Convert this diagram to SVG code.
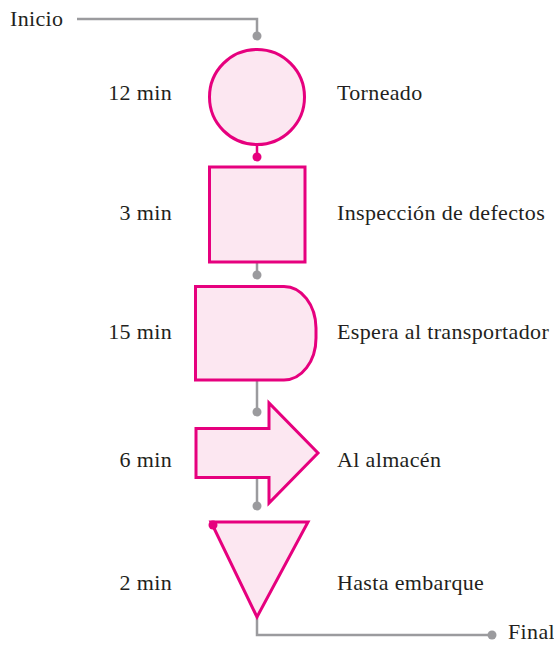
<svg xmlns="http://www.w3.org/2000/svg" width="554" height="645" viewBox="0 0 554 645">
<style>
.shape{fill:#FCE7F1;stroke:#E6007E;stroke-width:3;stroke-linejoin:miter}
.gl{fill:none;stroke:#9B9B9E;stroke-width:2.5}
.pl{fill:none;stroke:#E6007E;stroke-width:2.5}
.gd{fill:#9B9B9E}
.pd{fill:#E6007E}
.t{font-family:"Liberation Serif","Times New Roman",serif;font-size:22px;letter-spacing:0.35px;fill:#231F20}
.r{text-anchor:end}
</style>
<rect width="554" height="645" fill="#ffffff"/>
<g id="connectors">
<polyline class="gl" points="77,19 257,19 257,36"/>
<circle class="gd" cx="257" cy="36" r="4.5"/>
<line class="pl" x1="257" y1="145" x2="257" y2="157"/>
<circle class="pd" cx="257" cy="157" r="4.5"/>
<line class="gl" x1="257" y1="262" x2="257" y2="275"/>
<circle class="gd" cx="257" cy="275" r="4.5"/>
<line class="gl" x1="257" y1="380" x2="257" y2="412"/>
<circle class="gd" cx="257" cy="412" r="4.5"/>
<line class="gl" x1="257" y1="477" x2="257" y2="506"/>
<circle class="gd" cx="257" cy="506" r="4.5"/>
<polyline class="gl" points="257,617 257,635 492,635"/>
<circle class="gd" cx="492" cy="635" r="4.5"/>
</g>
<g id="inicio"><text class="t" x="10" y="26">Inicio</text></g>
<g id="torneado">
<circle class="shape" cx="257" cy="97" r="47.5"/>
<text class="t r" x="172" y="100">12 min</text>
<text class="t" x="337" y="100">Torneado</text>
</g>
<g id="inspeccion">
<rect class="shape" x="209.5" y="167" width="95.5" height="95"/>
<text class="t r" x="172" y="220">3 min</text>
<text class="t" x="337" y="220">Inspección de defectos</text>
</g>
<g id="espera">
<path class="shape" d="M195.5,286.5 H284 A32,42 0 0 1 316,328 V338 A32,42 0 0 1 284,380 H195.5 Z"/>
<text class="t r" x="172" y="339">15 min</text>
<text class="t" x="337" y="339">Espera al transportador</text>
</g>
<g id="almacen">
<polygon class="shape" points="196,428.5 269,428.5 269,403 318,453 269,503 269,477.5 196,477.5"/>
<text class="t r" x="172" y="467">6 min</text>
<text class="t" x="337" y="467">Al almacén</text>
</g>
<g id="embarque">
<polygon class="shape" points="211,522 308,522 257,617"/>
<circle class="pd" cx="213" cy="525" r="4.5"/>
<text class="t r" x="172" y="590">2 min</text>
<text class="t" x="337" y="590">Hasta embarque</text>
</g>
<g id="final"><text class="t" x="508" y="639">Final</text></g>
</svg>
